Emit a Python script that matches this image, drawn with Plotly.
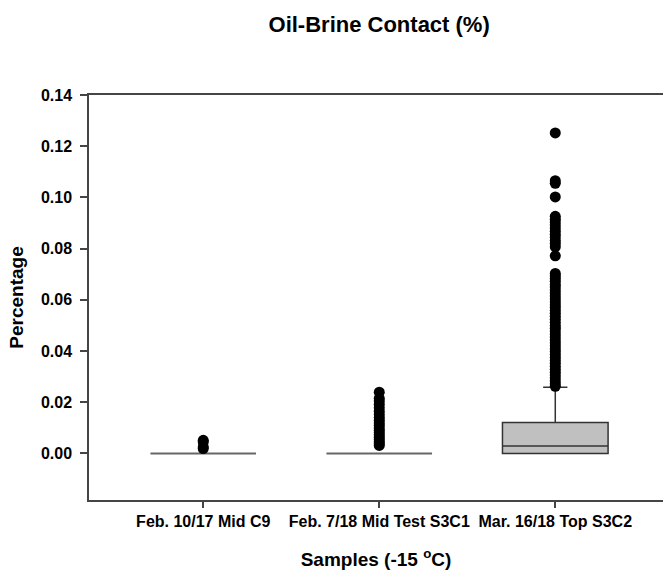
import plotly.graph_objects as go

categories = ["Feb. 10/17 Mid C9", "Feb. 7/18 Mid Test S3C1", "Mar. 16/18 Top S3C2"]

# precomputed box statistics (fraction, shown as "Percentage")
q1 = [0.0, 0.0, 0.0]
median = [0.0, 0.0, 0.00285]
q3 = [0.0, 0.0, 0.0121]
lowerfence = [0.0, 0.0, 0.0]
upperfence = [0.0, 0.0, 0.0258]

# outliers per sample
outliers_c9 = [0.0019, 0.0025, 0.0045, 0.0051]
outliers_s3c1 = [0.0239, 0.0215, 0.0205, 0.0192, 0.0178, 0.0165, 0.0152, 0.0140,
                 0.0130, 0.0119, 0.0110, 0.0099, 0.0090, 0.0081, 0.0072, 0.0063,
                 0.0054, 0.0046, 0.0038, 0.0031]
outliers_s3c2 = [0.1252, 0.1065, 0.1055, 0.1002,
                 0.0926, 0.0915, 0.0904, 0.0892, 0.0880, 0.0868, 0.0856, 0.0845,
                 0.0832, 0.0820, 0.0807, 0.0772,
                 0.0703, 0.0694, 0.0683, 0.0672, 0.0660, 0.0650, 0.0638, 0.0627,
                 0.0615, 0.0604, 0.0592, 0.0581, 0.0570, 0.0558, 0.0547, 0.0536,
                 0.0524, 0.0512, 0.0500, 0.0489, 0.0478, 0.0466, 0.0455, 0.0443,
                 0.0432, 0.0421, 0.0409, 0.0398, 0.0386, 0.0375, 0.0363, 0.0352,
                 0.0340, 0.0329, 0.0317, 0.0306, 0.0295, 0.0283, 0.0272, 0.0262]
outliers = [outliers_c9, outliers_s3c1, outliers_s3c2]

y_ticks = [0.00, 0.02, 0.04, 0.06, 0.08, 0.10, 0.12, 0.14]

FONT = "Liberation Sans, Arial, sans-serif"
AXIS = "#454545"

fig = go.Figure()

for i, cat in enumerate(categories):
    collapsed = q3[i] == q1[i]
    fig.add_trace(go.Box(
        x=[cat], q1=[q1[i]], median=[median[i]], q3=[q3[i]],
        lowerfence=[lowerfence[i]], upperfence=[upperfence[i]],
        width=0.6, whiskerwidth=0.23,
        fillcolor="#c0c0c0",
        line=dict(color="#666666" if collapsed else "#333333",
                  width=2 if collapsed else 1.5),
        boxpoints=False, showlegend=False, hoverinfo="skip",
    ))

for i, cat in enumerate(categories):
    fig.add_trace(go.Scatter(
        x=[cat] * len(outliers[i]), y=outliers[i], mode="markers",
        marker=dict(color="black", size=11, line=dict(width=0)),
        showlegend=False,
    ))

fig.update_layout(
    width=663, height=570,
    margin=dict(l=89, r=0, t=95, b=70),
    paper_bgcolor="white", plot_bgcolor="white",
    font=dict(family=FONT, color="black", size=16, weight="bold"),
    title=dict(text="Oil-Brine Contact (%)", font=dict(size=22, weight="bold"),
               x=0.5055, xref="paper", xanchor="center",
               y=1 - 24.7 / 570, yref="container", yanchor="middle"),
    xaxis=dict(
        type="category", categoryorder="array", categoryarray=categories,
        range=[-0.649, 2.612],
        showline=True, linecolor=AXIS, linewidth=1.5, mirror=True,
        ticks="outside", ticklen=6, tickwidth=1.5, tickcolor=AXIS,
        showgrid=False, zeroline=False,
        tickfont=dict(size=16, weight="bold"),
        title=dict(text="Samples (-15 <sup>o</sup>C)", font=dict(size=19, weight="bold"),
                   standoff=25),
    ),
    yaxis=dict(
        range=[-0.0182, 0.14],
        tickvals=y_ticks, tickformat=".2f",
        showline=True, linecolor=AXIS, linewidth=1.5,
        ticks="outside", ticklen=7, tickwidth=1.5, tickcolor=AXIS,
        showgrid=False, zeroline=False,
        tickfont=dict(size=16, weight="bold"),
        ticklabelstandoff=5,
        title=dict(text="Percentage", font=dict(size=19, weight="bold"), standoff=12),
    ),
)

fig.write_html("out.html")
